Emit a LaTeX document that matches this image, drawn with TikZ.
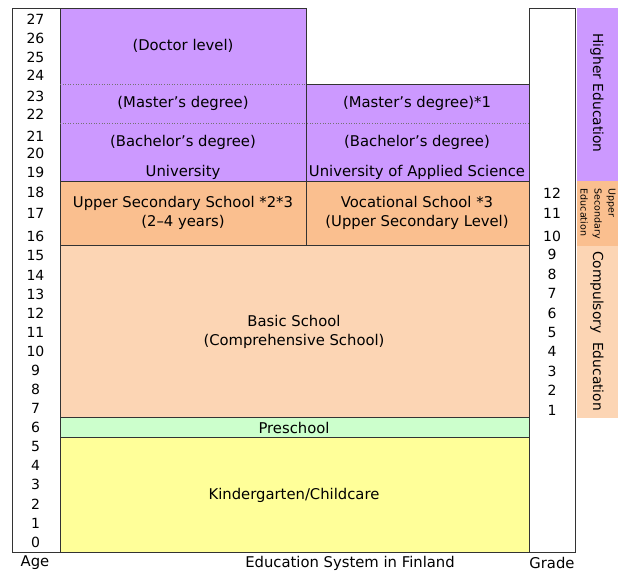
\documentclass[tikz,border=0pt]{standalone}
\usepackage{fontspec}
\setmainfont{DejaVu Sans}

\definecolor{higher_col}{HTML}{CC99FF}
\definecolor{upper_col}{HTML}{FABF8F}
\definecolor{basic_col}{HTML}{FCD5B4}
\definecolor{pre_col}{HTML}{CCFFCC}
\definecolor{kinder_col}{HTML}{FFFF99}

\tikzset{
  box_txt/.style={font=\fontsize{14.8}{19}\selectfont, align=center, inner sep=0pt},
  num_txt/.style={font=\fontsize{14}{15}\selectfont, inner sep=0pt},
  side_txt/.style={rotate=-90, align=center, inner sep=0pt},
}

\begin{document}
\begin{tikzpicture}[
  x=1pt, y=-1pt,
  frame line/.style={black!80, line width=0.8pt},
  dot line/.style={dotted, black!55, line width=0.6pt},
  ]
  \useasboundingbox (0,0) rectangle (618,573);

  % coloured blocks
  \fill[higher_col] (60,8) rectangle (306,181);
  \fill[higher_col] (306,84.5) rectangle (529,181);
  \fill[upper_col] (60,181) rectangle (529,245.5);
  \fill[basic_col] (60,245.5) rectangle (529,417.5);
  \fill[pre_col] (60,417.5) rectangle (529,437);
  \fill[kinder_col] (60,437) rectangle (529,552);

  % side column
  \fill[higher_col] (577,8) rectangle (618,181);
  \fill[upper_col] (577,181) rectangle (618,245.5);
  \fill[basic_col] (577,245.5) rectangle (618,417.5);

  % frame
  \draw[frame line] (12,8) rectangle (60,552);
  \draw[frame line] (529,8) rectangle (575,552);
  \draw[frame line] (60,8) -- (306,8) -- (306,245.5);
  \draw[frame line] (306,84.5) -- (529,84.5);
  \foreach \Y in {181,245.5,417.5,437}{
    \draw[frame line] (60,\Y) -- (529,\Y);
  }
  \draw[frame line] (60,552) -- (529,552);
  \draw[dot line] (60,84.5) -- (306,84.5);
  \draw[dot line] (60,123) -- (529,123);

  % ages
  \foreach \n in {0,...,15}{
    \node[num_txt] (age\n) at (35.5,542-19.07*\n) {\n};
  }
  \foreach \n/\Y in {16/236,17/213,18/192,19/172,20/153,21/136,22/114,23/96,24/75,25/57,26/38,27/19}{
    \node[num_txt] (age\n) at (35.5,\Y) {\n};
  }

  % grades
  \foreach \n in {1,...,9}{
    \node[num_txt] (grade\n) at (552,410-19.4*\n+19.4) {\n};
  }
  \foreach \n/\Y in {10/236,11/213,12/193}{
    \node[num_txt] (grade\n) at (552,\Y) {\n};
  }

  % schools
  \node[box_txt] (doctor) at (183,46) {(Doctor level)};
  \node[box_txt] (uni_master) at (183,103) {(Master's degree)};
  \node[box_txt] (uni_bachelor) at (183,142) {(Bachelor's degree)};
  \node[box_txt] (uni) at (183,172) {University};
  \node[box_txt] (uas_master) at (417,103) {(Master's degree)*1};
  \node[box_txt] (uas_bachelor) at (417,142) {(Bachelor's degree)};
  \node[box_txt] (uas) at (417,172) {University of Applied Science};
  \node[box_txt] (upper_sec) at (183,212.5) {Upper Secondary School *2*3\\(2--4 years)};
  \node[box_txt] (vocational) at (417,212.5) {Vocational School *3\\(Upper Secondary Level)};
  \node[box_txt] (basic) at (294,331.5) {Basic School\\(Comprehensive School)};
  \node[box_txt] (preschool) at (294,428) {Preschool};
  \node[box_txt] (kinder) at (294,495) {Kindergarten/Childcare};

  % side labels
  \node[side_txt, font=\fontsize{13.8}{15}\selectfont] (higher) at (597,93) {Higher Education};
  \node[side_txt, align=left, font=\fontsize{9.5}{14}\selectfont] (upper_edu) at (598,214) {Upper\\Secondary\\Education};
  \node[side_txt, font=\fontsize{13.8}{15}\selectfont] (compulsory) at (597,331) {Compulsory~~Education};

  % footer
  \node[box_txt] (age_lbl) at (35,563) {Age};
  \node[box_txt] (title) at (350,563) {Education System in Finland};
  \node[box_txt] (grade_lbl) at (552,563) {Grade};
\end{tikzpicture}
\end{document}
